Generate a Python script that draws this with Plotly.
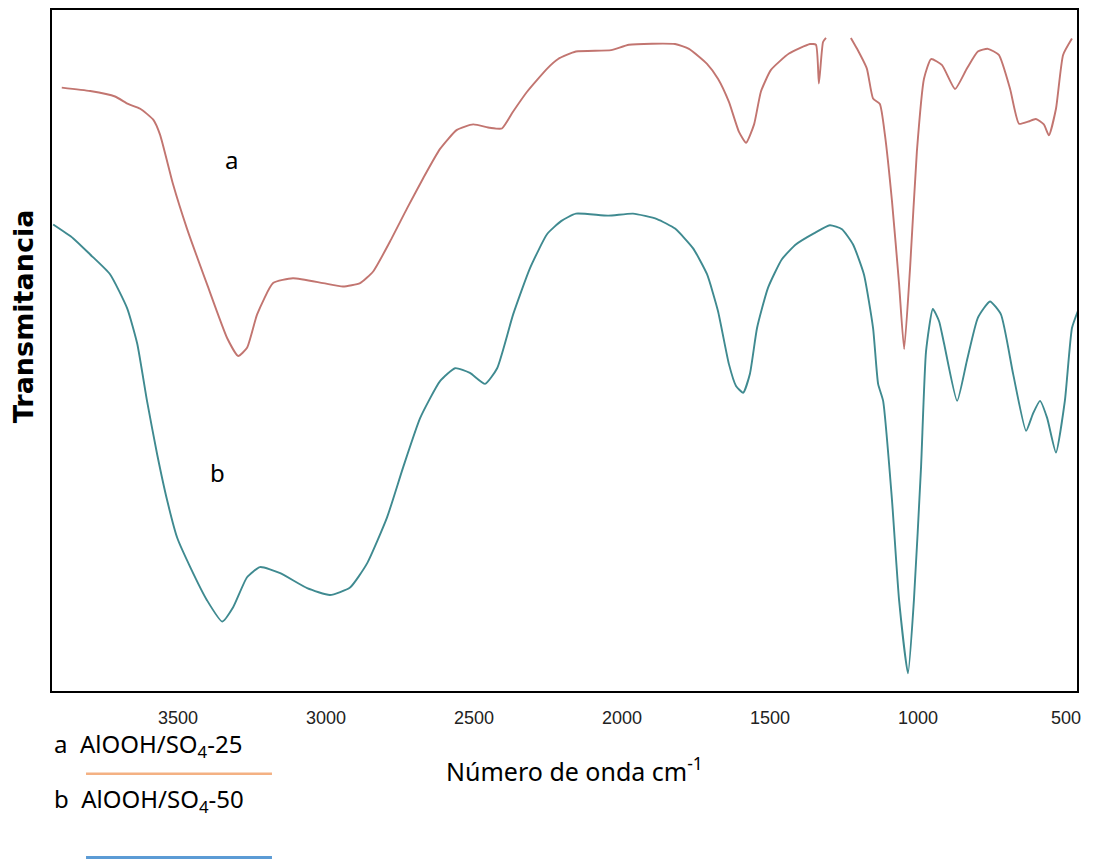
import plotly.graph_objects as go

# ---- Data (wavenumber cm-1, relative transmittance) ----
wn_a = [3893, 3797, 3713, 3669, 3628, 3584, 3561, 3517, 3470, 3402, 3334, 3297, 3267,
        3233, 3179, 3112, 3010, 2943, 2885, 2841, 2784, 2726, 2672, 2615, 2558, 2503,
        2446, 2406, 2368, 2321, 2253, 2216, 2156, 2037, 1977, 1821, 1774, 1713, 1676,
        1639, 1605, 1581, 1554, 1531, 1497, 1436, 1365, 1345, 1335, 1321, 1311, None,
        1227, 1206, 1173, 1152, 1129, 1112, 1088, 1064, 1047, 1027, 1004, 980, 956,
        919, 875, 835, 798, 764, 727, 689, 659, 629, 602, 575, 558, 534, 510, 480]
t_a = [88.6, 88.1, 87.3, 86.2, 85.5, 83.9, 81.7, 74.4, 67.9, 59.7, 51.8, 49.2, 50.4,
       55.3, 59.9, 60.6, 59.9, 59.4, 59.9, 61.6, 66.0, 70.9, 75.3, 79.6, 82.4, 83.2,
       82.7, 82.6, 85.1, 88.0, 91.4, 92.8, 93.9, 94.1, 94.9, 95.0, 94.3, 92.1, 89.9,
       86.5, 82.1, 80.5, 83.2, 88.0, 91.2, 93.6, 95.0, 94.9, 89.2, 95.3, 95.9, None,
       95.9, 94.3, 91.4, 87.0, 86.2, 81.7, 71.9, 59.7, 50.2, 62.1, 79.2, 89.9, 92.8,
       91.9, 88.4, 91.4, 93.9, 94.3, 93.4, 88.4, 83.3, 83.6, 84.0, 83.2, 81.6, 85.5,
       93.4, 95.8]

wn_b = [3922, 3855, 3797, 3730, 3672, 3638, 3605, 3571, 3537, 3503, 3459, 3402, 3351,
        3314, 3267, 3223, 3155, 3064, 2987, 2919, 2862, 2794, 2740, 2682, 2615, 2564,
        2514, 2463, 2422, 2368, 2311, 2253, 2206, 2156, 2047, 1963, 1882, 1821,
        1760, 1713, 1676, 1639, 1615, 1591, 1568, 1544, 1507, 1460, 1412, 1352, 1298,
        1257, 1220, 1183, 1152, 1135, 1118, 1088, 1064, 1034, 1014, 990, 973, 950, 929,
        912, 868, 835, 798, 757, 720, 679, 635, 612, 588, 564, 534, 504, 480, 460]
t_b = [68.5, 66.5, 64.1, 61.2, 56.2, 51.0, 42.6, 34.8, 28.0, 22.5, 18.2, 13.3, 10.2,
       12.3, 16.7, 18.2, 17.3, 15.1, 14.1, 15.2, 18.7, 25.5, 32.8, 40.1, 45.5, 47.4,
       46.7, 45.1, 47.4, 55.3, 62.1, 67.1, 69.0, 70.1, 69.8, 70.1, 69.3, 67.9,
       65.0, 61.2, 55.8, 48.0, 44.8, 43.8, 46.6, 53.3, 59.2, 63.4, 65.6, 67.2, 68.4,
       67.8, 65.6, 61.2, 53.3, 45.1, 42.6, 28.0, 13.3, 2.6, 13.3, 32.8, 49.9, 56.1, 54.3,
       51.0, 42.6, 48.5, 54.8, 57.2, 55.3, 46.6, 38.2, 40.7, 42.6, 40.1, 35.0, 42.6,
       53.3, 55.8]

tick_vals = [3500, 3000, 2500, 2000, 1500, 1000, 500]
tick_text = ["3500", "3000", "2500", "2000", "1500", "1000", "500"]

series_names = ["a  AlOOH/SO<sub>4</sub>-25", "b  AlOOH/SO<sub>4</sub>-50"]
curve_labels = ["a", "b"]
y_title = "Transmitancia"
x_title = "Número de onda cm<sup>-1</sup>"

fig = go.Figure()
fig.add_trace(go.Scatter(x=wn_a, y=t_a, mode="lines", connectgaps=False,
                         line=dict(color="#c27570", width=1.9, shape="spline", smoothing=0.5),
                         showlegend=False))
fig.add_trace(go.Scatter(x=wn_b, y=t_b, mode="lines",
                         line=dict(color="#3f8a90", width=1.9, shape="spline", smoothing=0.5),
                         showlegend=False))

txt_font = dict(family="Noto Sans", size=24, color="black")

# curve labels
fig.add_annotation(x=3318, y=78.0, xref="x", yref="y", text=curve_labels[0], showarrow=False,
                   font=txt_font)
fig.add_annotation(x=3368, y=32.1, xref="x", yref="y", text=curve_labels[1], showarrow=False,
                   font=txt_font)

# y title
fig.add_annotation(x=-0.0273, y=0.5505, xref="paper", yref="paper", xanchor="center",
                   yanchor="middle", textangle=-90, text="<b>" + y_title + "</b>",
                   showarrow=False, borderpad=0, height=28,
                   font=dict(family="DejaVu Sans", size=27, color="black"))

# x title
fig.add_annotation(x=0.510, y=-0.1157, xref="paper", yref="paper", xanchor="center",
                   yanchor="middle", text=x_title, showarrow=False,
                   font=dict(family="Noto Sans", size=25, color="black"))

# custom legend
fig.add_annotation(x=0.0, y=-0.079, xref="paper", yref="paper", xanchor="left",
                   yanchor="middle", text=series_names[0], showarrow=False, font=txt_font)
fig.add_annotation(x=0.0, y=-0.1596, xref="paper", yref="paper", xanchor="left",
                   yanchor="middle", text=series_names[1], showarrow=False, font=txt_font)
fig.add_shape(type="line", xref="paper", yref="paper", x0=0.0332, x1=0.2146,
              y0=-0.1215, y1=-0.1215, line=dict(color="#f4b183", width=2.5))
fig.add_shape(type="line", xref="paper", yref="paper", x0=0.0332, x1=0.2146,
              y0=-0.2445, y1=-0.2445, line=dict(color="#5b9bd5", width=3))

fig.update_layout(
    width=1087, height=855,
    margin=dict(l=44, r=18, t=0, b=172),
    paper_bgcolor="white", plot_bgcolor="white",
    xaxis=dict(range=[3926, 463], tickvals=tick_vals, ticktext=tick_text,
               showgrid=False, zeroline=False, showline=True, mirror=True,
               linecolor="black", linewidth=2, ticks="", ticklabelstandoff=9,
               tickfont=dict(family="Liberation Sans", size=18, color="#222")),
    yaxis=dict(range=[0, 100], showticklabels=False, showgrid=False, zeroline=False,
               showline=True, mirror=True, linecolor="black", linewidth=2, ticks=""),
)

fig.write_html("out.html")
